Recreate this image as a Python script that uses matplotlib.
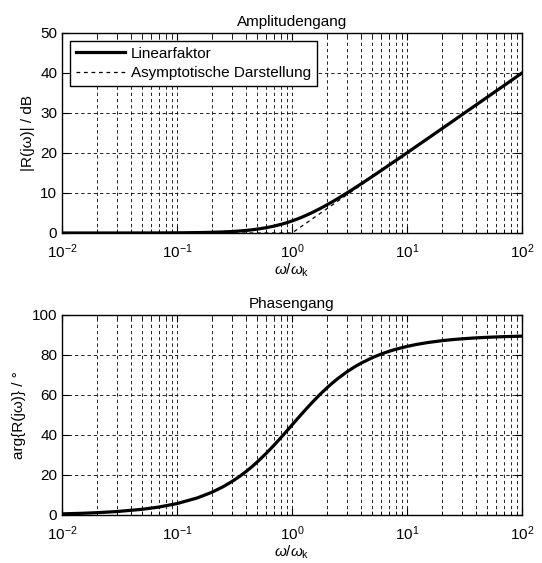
import matplotlib
matplotlib.use("Agg")
import matplotlib.pyplot as plt
from matplotlib.ticker import LogLocator, NullFormatter

plt.rcParams['font.family'] = ['Liberation Sans', 'DejaVu Sans']
plt.rcParams['mathtext.fontset'] = 'custom'
plt.rcParams['mathtext.rm'] = 'Liberation Sans'
plt.rcParams['mathtext.it'] = 'Liberation Sans:italic'
plt.rcParams['font.size'] = 11

# Werte
omega = [0.01, 0.015, 0.02, 0.03, 0.05, 0.07, 0.1, 0.15, 0.2, 0.25, 0.3, 0.35, 0.4,
         0.45, 0.5, 0.6, 0.7, 0.8, 0.9, 1.0, 1.1, 1.2, 1.35, 1.5, 1.75, 2.0, 2.25,
         2.5, 3.0, 3.5, 4.0, 5.0, 6.0, 7.0, 8.0, 10.0, 12.0, 15.0, 20.0, 25.0, 30.0,
         40.0, 50.0, 70.0, 100.0]
betrag_db = [0.0, 0.0, 0.0, 0.0, 0.01, 0.02, 0.04, 0.10, 0.17, 0.26, 0.37, 0.50, 0.64,
             0.80, 0.97, 1.34, 1.73, 2.15, 2.57, 3.01, 3.44, 3.87, 4.51, 5.12, 6.09, 6.99, 7.82,
             8.60, 10.0, 11.22, 12.30, 14.15, 15.68, 17.0, 18.13, 20.04, 21.62, 23.54, 26.03, 27.96, 29.55,
             32.04, 33.98, 36.90, 40.0]
phase_deg = [0.57, 0.86, 1.15, 1.72, 2.86, 4.0, 5.71, 8.53, 11.31, 14.04, 16.70, 19.29, 21.80,
             24.23, 26.57, 30.96, 34.99, 38.66, 41.99, 45.0, 47.73, 50.19, 53.47, 56.31, 60.26, 63.43, 66.04,
             68.20, 71.57, 74.05, 75.96, 78.69, 80.54, 81.87, 82.87, 84.29, 85.24, 86.19, 87.14, 87.71, 88.09,
             88.57, 88.85, 89.18, 89.43]
asym_omega = [0.01, 1.0, 100.0]
asym_db = [0.0, 0.0, 40.0]

fig = plt.figure(figsize=(5.42, 5.63), dpi=100)
ax1 = fig.add_axes([62 / 542, 1 - 233 / 563, 460 / 542, 200 / 563])
ax2 = fig.add_axes([62 / 542, 1 - 515 / 563, 460 / 542, 200 / 563])


def style(ax):
    ax.set_xscale('log')
    ax.set_xlim(0.01, 100)
    ax.xaxis.set_major_locator(LogLocator(base=10))
    ax.xaxis.set_minor_locator(LogLocator(base=10, subs=range(2, 10)))
    ax.xaxis.set_minor_formatter(NullFormatter())
    ax.tick_params(which='both', direction='in', top=True, right=True, labelsize=11)
    ax.tick_params(which='major', length=5)
    ax.tick_params(which='minor', length=3)
    ax.tick_params(axis='x', which='major', pad=7)
    ax.grid(True, which='major', color='black', linestyle=(0, (4, 3.5)), linewidth=0.6)
    ax.grid(True, which='minor', axis='x', color='black', linestyle=(0, (4, 3.5)), linewidth=0.6)
    for s in ax.spines.values():
        s.set_linewidth(1.0)
    ax.set_xlabel(r'$\omega/\omega_\mathrm{k}$', fontsize=11, labelpad=0)


ax1.plot(omega, betrag_db, color='black', linewidth=2.3, label='Linearfaktor')
ax1.plot(asym_omega, asym_db, color='black', linewidth=0.9, linestyle=(0, (3, 3)),
         label='Asymptotische Darstellung')
style(ax1)
ax1.set_ylim(0, 50)
ax1.set_yticks([0, 10, 20, 30, 40, 50])
ax1.set_title('Amplitudengang', fontsize=11, pad=5)
ax1.set_ylabel('|R(jω)| / dB', fontsize=11)
leg = ax1.legend(loc='upper left', fancybox=False, framealpha=1, edgecolor='black',
                 fontsize=11, handlelength=3.2, borderpad=0.4, labelspacing=0.35,
                 borderaxespad=0.5, handletextpad=0.4)
leg.get_frame().set_linewidth(1.0)

ax2.plot(omega, phase_deg, color='black', linewidth=2.3)
style(ax2)
ax2.set_ylim(0, 100)
ax2.set_yticks([0, 20, 40, 60, 80, 100])
ax2.set_title('Phasengang', fontsize=11, pad=5)
ax2.set_ylabel('arg{R(jω)} / °', fontsize=11)

fig.savefig('out.png', dpi=100)
